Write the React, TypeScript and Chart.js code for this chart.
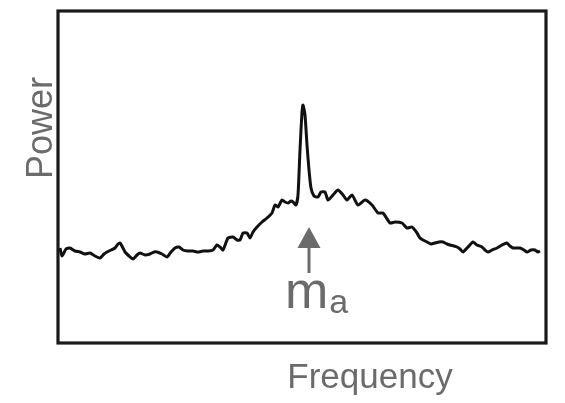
import React, { useEffect, useRef } from "react";
import { Chart, registerables } from "chart.js";

Chart.register(...registerables);

// Spectrum trace (frequency, power) in arbitrary units
const frequency: number[] = [
  2, 4, 8, 12, 17, 22, 27, 32, 37, 42,
  46, 49, 53, 57, 60, 62, 65, 67, 71, 75,
  79, 82, 87, 92, 96, 99, 104, 109, 113, 117,
  121, 125, 130, 135, 140, 145, 150, 155, 159, 162,
  165, 170, 175, 179, 182, 185, 189, 192, 195, 199,
  204, 209, 214, 217, 220, 224, 227, 230, 233, 235,
  238, 240, 242, 244, 245, 247, 249, 251, 253, 256,
  260, 263, 267, 270, 275, 280, 285, 289, 294, 300,
  307, 314, 320, 325, 332, 337, 344, 349, 354, 359,
  362, 365, 369, 373, 377, 381, 385, 389, 392, 396,
  399, 402, 405, 410, 415, 419, 424, 427, 430, 434,
  439, 444, 449, 452, 455, 459, 462, 466, 469, 473,
  477, 480, 482,
];
const power: number[] = [
  95, 87, 94, 95, 92, 91, 89, 90, 87, 85,
  89, 91, 93, 95, 99, 100, 95, 91, 87, 84,
  88, 90, 88, 89, 91, 91, 89, 86, 91, 95,
  96, 93, 92, 92, 91, 92, 92, 93, 98, 96,
  93, 105, 106, 103, 103, 110, 110, 105, 111, 116,
  121, 125, 130, 138, 136, 143, 141, 140, 142, 141,
  138, 148, 193, 231, 238, 228, 198, 173, 155, 147,
  146, 151, 151, 143, 148, 153, 148, 143, 148, 138,
  143, 138, 130, 130, 120, 121, 120, 115, 116, 110,
  105, 103, 101, 99, 100, 101, 101, 99, 98, 97,
  96, 94, 91, 96, 101, 98, 96, 93, 91, 93,
  95, 98, 100, 97, 95, 95, 95, 93, 91, 93,
  93, 91, 92,
];

const freqRange: number[] = [0, 488];
const powerRange: number[] = [0, 332];

// Annotation: arrow pointing at the axion mass peak
const markerFreq = 251;
const arrowTip = 116;
const arrowHeadBase = 95;
const arrowTail = 70;
const markerLabelBaseline = 35;

const xTitle = "Frequency";
const yTitle = "Power";

const GRAY = "#6b6b6b";
const FONT = "'Liberation Sans', Arial, Helvetica, sans-serif";

const decorPlugin = {
  id: "decor",
  afterDatasetsDraw(chart: any) {
    const { ctx, chartArea, scales } = chart;
    const xs = scales.x;
    const ys = scales.y;
    ctx.save();
    // frame
    ctx.strokeStyle = "#1a1a1a";
    ctx.lineWidth = 3.2;
    ctx.strokeRect(
      chartArea.left,
      chartArea.top,
      chartArea.right - chartArea.left,
      chartArea.bottom - chartArea.top
    );

    // arrow
    const ax = xs.getPixelForValue(markerFreq);
    const tipY = ys.getPixelForValue(arrowTip);
    const headY = ys.getPixelForValue(arrowHeadBase);
    const tailY = ys.getPixelForValue(arrowTail);
    ctx.strokeStyle = GRAY;
    ctx.fillStyle = GRAY;
    ctx.lineWidth = 3;
    ctx.beginPath();
    ctx.moveTo(ax, headY);
    ctx.lineTo(ax, tailY);
    ctx.stroke();
    ctx.beginPath();
    ctx.moveTo(ax, tipY);
    ctx.lineTo(ax - 11.5, headY);
    ctx.lineTo(ax + 11.5, headY);
    ctx.closePath();
    ctx.fill();

    // m_a label
    const by = ys.getPixelForValue(markerLabelBaseline);
    ctx.textBaseline = "alphabetic";
    ctx.textAlign = "left";
    ctx.font = `52px ${FONT}`;
    const mw = ctx.measureText("m").width;
    const mx = ax - 24;
    ctx.fillText("m", mx, by);
    ctx.font = `34px ${FONT}`;
    ctx.fillText("a", mx + mw + 1, by + 5);

    // axis titles
    ctx.textAlign = "center";
    ctx.font = `35px ${FONT}`;
    ctx.fillText(xTitle, 370, 388);
    ctx.save();
    ctx.translate(52, 128);
    ctx.rotate(-Math.PI / 2);
    ctx.font = `36px ${FONT}`;
    ctx.fillText(yTitle, 0, 0);
    ctx.restore();

    ctx.restore();
  },
};

export default function App() {
  const canvasRef = useRef<HTMLCanvasElement | null>(null);

  useEffect(() => {
    if (!canvasRef.current) return;
    const chart = new Chart(canvasRef.current, {
      type: "line",
      data: {
        datasets: [
          {
            data: frequency.map((f, i) => ({ x: f, y: power[i] })),
            borderColor: "#111111",
            borderWidth: 3,
            pointRadius: 0,
            tension: 0.2,
            fill: false,
          },
        ],
      },
      options: {
        responsive: true,
        maintainAspectRatio: false,
        animation: false,
        layout: { padding: { left: 58, right: 19, top: 11, bottom: 60 } },
        plugins: {
          legend: { display: false },
          tooltip: { enabled: false },
        },
        scales: {
          x: { type: "linear", min: freqRange[0], max: freqRange[1], display: false },
          y: { type: "linear", min: powerRange[0], max: powerRange[1], display: false },
        },
      },
      plugins: [decorPlugin],
    });
    return () => chart.destroy();
  }, []);

  return (
    <div
      style={{
        position: "fixed",
        left: 0,
        top: 0,
        width: 565,
        height: 403,
        background: "#ffffff",
      }}
    >
      <canvas ref={canvasRef} />
    </div>
  );
}
